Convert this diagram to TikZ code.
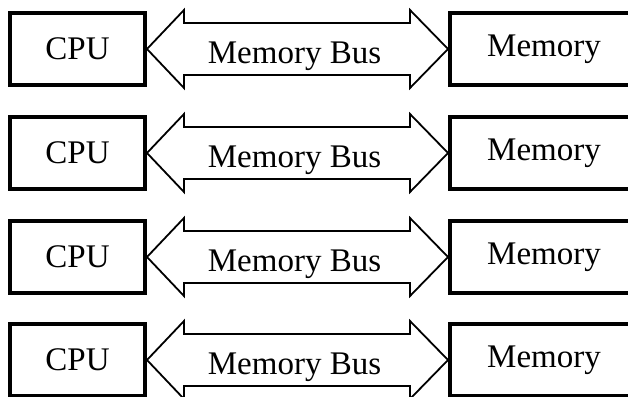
\documentclass[tikz,border=0pt]{standalone}
\usepackage{fontspec}
\setmainfont{Liberation Serif}
\usepackage{tikz}
\usetikzlibrary{calc}
\tikzset{%
  cpubox/.style={draw,line width=4,minimum width=135,minimum height=72,inner sep=0,font=\fontsize{33}{40}\selectfont},
  membox/.style={draw,line width=4,minimum width=188,minimum height=72,inner sep=0,font=\fontsize{33}{40}\selectfont},
  busline/.style={draw,line width=1.8,line join=miter},
  buslabel/.style={inner sep=0,font=\fontsize{33}{40}\selectfont}
}

\begin{document}
\begin{tikzpicture}[x=1pt,y=-1pt]
    \useasboundingbox (0,0) rectangle (628,396);
    \clip (0,0) rectangle (628,396);
    \foreach \i/\y in {1/49,2/153,3/257,4/360} {
      \path
        (77.5,\y) node (cpu\i)[cpubox]{CPU}
        (544,\y) node (mem\i)[membox]{Memory};
      \draw[busline] (cpu\i.east) -- ++(37,-39) -- ++(0,13)
        -- ($(mem\i.west)+(-38,-26)$) -- ++(0,-13) -- (mem\i.west)
        -- ++(-38,39) -- ++(0,-13) -- ($(cpu\i.east)+(37,26)$)
        -- ++(0,13) -- cycle;
      \path (cpu\i.east) -- node[buslabel,xshift=-3,yshift=-7]{Memory Bus} (mem\i.west);
    }
  \end{tikzpicture}
\end{document}
